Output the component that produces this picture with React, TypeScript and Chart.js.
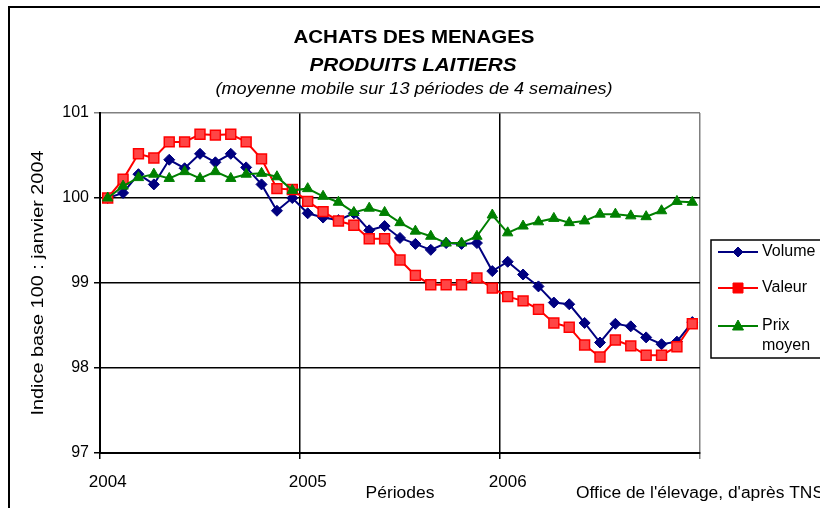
import React, { useEffect, useRef } from 'react';
import { Chart, registerables } from 'chart.js';

Chart.register(...registerables);

// ---- Data ----
const periods: string[] = [
  '2004 P01', '2004 P02', '2004 P03', '2004 P04', '2004 P05', '2004 P06', '2004 P07',
  '2004 P08', '2004 P09', '2004 P10', '2004 P11', '2004 P12', '2004 P13',
  '2005 P01', '2005 P02', '2005 P03', '2005 P04', '2005 P05', '2005 P06', '2005 P07',
  '2005 P08', '2005 P09', '2005 P10', '2005 P11', '2005 P12', '2005 P13',
  '2006 P01', '2006 P02', '2006 P03', '2006 P04', '2006 P05', '2006 P06', '2006 P07',
  '2006 P08', '2006 P09', '2006 P10', '2006 P11', '2006 P12', '2006 P13',
];

const volume: number[] = [
  100.0, 100.06, 100.28, 100.16, 100.45, 100.35, 100.52, 100.42, 100.52, 100.36, 100.16, 99.85, 100.0,
  99.82, 99.77, 99.74, 99.82, 99.62, 99.67, 99.53, 99.46, 99.39, 99.47, 99.46, 99.47, 99.14,
  99.25, 99.1, 98.96, 98.77, 98.75, 98.53, 98.3, 98.52, 98.49, 98.36, 98.28, 98.31, 98.54,
];

const valeur: number[] = [
  100.0, 100.22, 100.52, 100.47, 100.66, 100.66, 100.75, 100.74, 100.75, 100.66, 100.46, 100.11, 100.1,
  99.96, 99.84, 99.73, 99.68, 99.52, 99.52, 99.27, 99.09, 98.98, 98.98, 98.98, 99.06, 98.94,
  98.84, 98.79, 98.69, 98.53, 98.48, 98.27, 98.13, 98.33, 98.26, 98.15, 98.15, 98.25, 98.52,
];

const prixMoyen: number[] = [
  100.0, 100.14, 100.24, 100.28, 100.23, 100.31, 100.23, 100.31, 100.23, 100.28, 100.29, 100.25, 100.09,
  100.11, 100.02, 99.95, 99.83, 99.88, 99.83, 99.71, 99.61, 99.55, 99.47, 99.47, 99.55, 99.8,
  99.59, 99.67, 99.72, 99.76, 99.71, 99.73, 99.81, 99.81, 99.79, 99.78, 99.85, 99.96, 99.95,
];

const yearTickIndex: number[] = [0, 13, 26];
const yearTickLabel: string[] = ['2004', '2005', '2006'];

const seriesNames: string[] = ['Volume', 'Valeur', 'Prix moyen'];
const seriesColors: string[] = ['#000080', '#FF0000', '#008000'];

const titleLines: string[] = [
  'ACHATS DES MENAGES',
  'PRODUITS LAITIERS',
  '(moyenne mobile sur 13 périodes de 4 semaines)',
];
const yAxisTitle = 'Indice base 100 : janvier 2004';
const xAxisTitle = 'Périodes';
const sourceText = "Office de l'élevage, d'après TNS";

const FONT = '"Liberation Sans", Arial, Helvetica, sans-serif';

function fitText(
  ctx: CanvasRenderingContext2D,
  text: string,
  x: number,
  y: number,
  font: string,
  width: number,
  align: CanvasTextAlign,
  rotate = 0
) {
  ctx.save();
  ctx.font = font;
  const w = ctx.measureText(text).width;
  const sx = w > 0 ? width / w : 1;
  ctx.translate(x, y);
  if (rotate) ctx.rotate(rotate);
  ctx.scale(sx, 1);
  ctx.textAlign = align;
  ctx.textBaseline = 'middle';
  ctx.fillStyle = '#000';
  ctx.fillText(text, 0, 0);
  ctx.restore();
}

function drawMarker(ctx: CanvasRenderingContext2D, kind: string, x: number, y: number, color: string) {
  ctx.save();
  ctx.fillStyle = color;
  ctx.strokeStyle = color;
  ctx.lineWidth = 1;
  ctx.beginPath();
  if (kind === 'diamond') {
    ctx.moveTo(x, y - 5);
    ctx.lineTo(x + 5, y);
    ctx.lineTo(x, y + 5);
    ctx.lineTo(x - 5, y);
    ctx.closePath();
  } else if (kind === 'square') {
    ctx.rect(x - 5, y - 5, 10, 10);
  } else {
    ctx.moveTo(x, y - 6);
    ctx.lineTo(x + 5.5, y + 4);
    ctx.lineTo(x - 5.5, y + 4);
    ctx.closePath();
  }
  ctx.fill();
  ctx.stroke();
  ctx.restore();
}

const decorPlugin = {
  id: 'decor',
  beforeDraw(chart: any) {
    const ctx = chart.ctx as CanvasRenderingContext2D;
    ctx.save();
    ctx.fillStyle = '#ffffff';
    ctx.fillRect(0, 0, chart.width, chart.height);
    ctx.restore();
  },
  afterDraw(chart: any) {
    const ctx = chart.ctx as CanvasRenderingContext2D;
    ctx.save();
    // outer frame
    ctx.strokeStyle = '#000';
    ctx.lineWidth = 2;
    ctx.strokeRect(9, 7, 900, 600);

    // titles
    fitText(ctx, titleLines[0], 414, 38, `bold 18px ${FONT}`, 241, 'center');
    fitText(ctx, titleLines[1], 413, 66, `italic bold 18px ${FONT}`, 207, 'center');
    fitText(ctx, titleLines[2], 414, 90, `italic 16px ${FONT}`, 397, 'center');

    // y axis title
    fitText(ctx, yAxisTitle, 38, 283, `17px ${FONT}`, 265, 'center', -Math.PI / 2);

    // x axis title and source
    fitText(ctx, xAxisTitle, 400, 494, `16px ${FONT}`, 69, 'center');
    fitText(ctx, sourceText, 576, 494, `16px ${FONT}`, 248, 'left');

    // legend
    ctx.strokeStyle = '#000';
    ctx.lineWidth = 1.5;
    ctx.strokeRect(711, 240, 130, 118);
    const rows = [252, 288, 326];
    const kinds = ['diamond', 'square', 'triangle'];
    for (let i = 0; i < 3; i++) {
      const y = rows[i];
      ctx.strokeStyle = seriesColors[i];
      ctx.lineWidth = 2;
      ctx.beginPath();
      ctx.moveTo(718, y);
      ctx.lineTo(758, y);
      ctx.stroke();
      drawMarker(ctx, kinds[i], 738, y, seriesColors[i]);
    }
    ctx.fillStyle = '#000';
    ctx.font = `16px ${FONT}`;
    ctx.textAlign = 'left';
    ctx.textBaseline = 'middle';
    ctx.fillText(seriesNames[0], 762, rows[0]);
    ctx.fillText(seriesNames[1], 762, rows[1]);
    const parts = seriesNames[2].split(' ');
    ctx.fillText(parts[0], 762, rows[2]);
    ctx.fillText(parts[1], 762, rows[2] + 20);
    ctx.restore();
  },
};

export default function App() {
  const canvasRef = useRef<HTMLCanvasElement | null>(null);

  useEffect(() => {
    if (!canvasRef.current) return;
    const chart = new Chart(canvasRef.current, {
      type: 'line',
      data: {
        labels: periods,
        datasets: [
          {
            label: seriesNames[0],
            data: volume,
            borderColor: seriesColors[0],
            backgroundColor: seriesColors[0],
            borderWidth: 2,
            pointStyle: 'rectRot',
            pointRadius: 5.5,
            pointBorderWidth: 1,
            pointBackgroundColor: seriesColors[0],
            pointBorderColor: seriesColors[0],
            tension: 0,
            order: 3,
          },
          {
            label: seriesNames[1],
            data: valeur,
            borderColor: seriesColors[1],
            backgroundColor: seriesColors[1],
            borderWidth: 2,
            pointStyle: 'rect',
            pointRadius: 7,
            pointBorderWidth: 1.5,
            pointBackgroundColor: '#ff4545',
            pointBorderColor: seriesColors[1],
            tension: 0,
            order: 2,
          },
          {
            label: seriesNames[2],
            data: prixMoyen,
            borderColor: seriesColors[2],
            backgroundColor: seriesColors[2],
            borderWidth: 2,
            pointStyle: 'triangle',
            pointRadius: 6,
            pointBorderWidth: 1,
            pointBackgroundColor: seriesColors[2],
            pointBorderColor: seriesColors[2],
            tension: 0,
            order: 1,
          },
        ],
      },
      options: {
        animation: false,
        responsive: false,
        maintainAspectRatio: false,
        devicePixelRatio: 1,
        layout: { padding: { left: 0, top: 113, right: 120, bottom: 0 } },
        plugins: {
          legend: { display: false },
          title: { display: false },
          tooltip: { enabled: false },
        },
        scales: {
          x: {
            type: 'category',
            offset: true,
            grid: {
              offset: true,
              color: (c: any) =>
                c.type === 'tick'
                  ? yearTickIndex.includes(c.index)
                    ? '#000000'
                    : 'rgba(0,0,0,0)'
                  : '#808080',
              lineWidth: 1.5,
              tickLength: 6,
            },
            border: { color: '#000', width: 2 },
            ticks: {
              autoSkip: false,
              maxRotation: 0,
              minRotation: 0,
              padding: 13,
              color: '#000',
              font: { family: FONT, size: 17 },
              callback: (_v: any, i: number) => {
                const k = yearTickIndex.indexOf(i);
                return k >= 0 ? yearTickLabel[k] : '';
              },
            },
            afterFit: (s: any) => {
              s.height = 55;
            },
          },
          y: {
            min: 97,
            max: 101,
            grid: {
              color: (c: any) => (c.tick && c.tick.value === 101 ? '#808080' : '#000000'),
              lineWidth: 1.5,
              tickLength: 6,
            },
            border: { color: '#000', width: 2 },
            ticks: {
              stepSize: 1,
              padding: 5,
              color: '#000',
              font: { family: FONT, size: 16 },
            },
            title: { display: false },
            afterFit: (s: any) => {
              s.width = 100;
            },
          },
        },
      },
      plugins: [decorPlugin],
    } as any);
    return () => chart.destroy();
  }, []);

  return (
    <div style={{ position: 'absolute', left: 0, top: 0, width: 820, height: 508 }}>
      <canvas ref={canvasRef} width={820} height={508} style={{ width: 820, height: 508, display: 'block' }} />
    </div>
  );
}
